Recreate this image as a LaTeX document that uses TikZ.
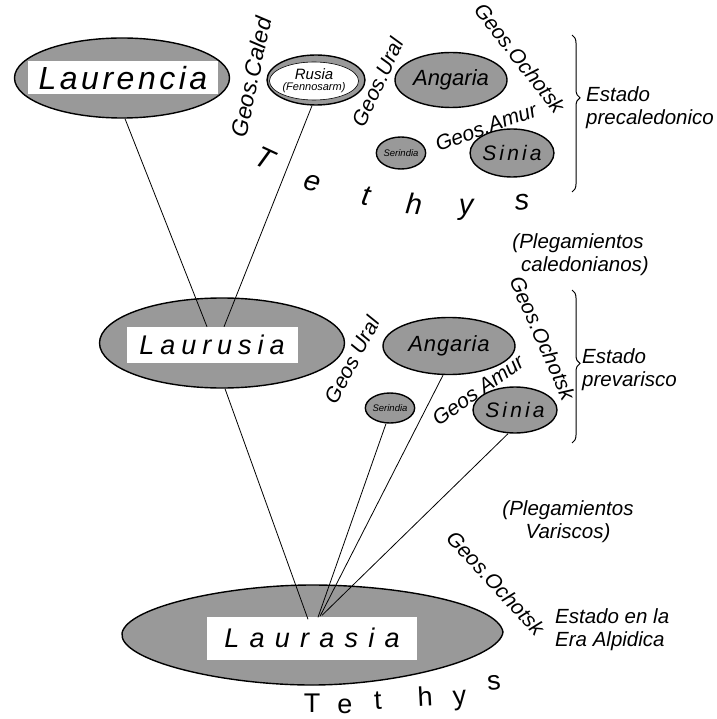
\documentclass[tikz,border=0pt]{standalone}
\usepackage{fontspec}
\setmainfont{Liberation Sans}
\usetikzlibrary{positioning,shapes.geometric,calc,decorations.pathreplacing}

\begin{document}
\begin{tikzpicture}[x=1pt, y=-1pt,
  landmass/.style={ellipse, draw, line width=1.4pt, fill=black!40, inner sep=0pt},
  namebox/.style={fill=white, inner sep=0pt, font=\itshape\fontsize{27}{27}\selectfont},
  geos/.style={font=\itshape\fontsize{21}{21}\selectfont, inner sep=0pt},
  note/.style={font=\itshape\fontsize{20.5}{23}\selectfont, inner sep=0pt},
  sea/.style={font=\itshape\fontsize{29}{29}\selectfont, inner sep=0pt},
  tie/.style={line width=0.8pt},
  stage/.style={decorate, decoration={brace, amplitude=8pt, aspect=#1}, line width=1pt}
]
\useasboundingbox (0,0) rectangle (716,719);

% Estado precaledonico
\node[landmass, minimum width=215, minimum height=80] (laurencia) at (122,78) {};
\node[namebox, minimum width=190, minimum height=33, font=\itshape\fontsize{32}{32}\selectfont] (laurenciaLbl) at (123,78) {\addfontfeature{LetterSpace=11}Laurencia};
\node[landmass, minimum width=98, minimum height=50] (rusia) at (316,80) {};
\node[ellipse, draw, line width=0.6pt, fill=white, minimum width=84, minimum height=38, inner sep=0pt, align=center] (rusiaLbl) at (314,81)
  {{\itshape\fontsize{15}{15}\selectfont Rusia}\\[-1pt]{\itshape\fontsize{11}{11}\selectfont (Fennosarm)}};
\node[landmass, minimum width=112, minimum height=55, font=\itshape\fontsize{22}{22}\selectfont] (angaria1) at (451,80) {Angaria};
\node[landmass, minimum width=48, minimum height=32, font=\itshape\fontsize{9.5}{9.5}\selectfont] (serindia1) at (401,153) {Serindia};
\node[landmass, minimum width=82, minimum height=48, font=\itshape\fontsize{21}{21}\selectfont] (sinia1) at (512,153) {\addfontfeature{LetterSpace=15}Sinia};

\node[geos, rotate=78, font=\itshape\fontsize{23}{23}\selectfont] (caled1) at (251,77) {Geos.Caled};
\node[geos, rotate=65] (ural1) at (378,82) {Geos.Ural};
\node[geos, rotate=-52] (ochotsk1) at (520,58) {Geos.Ochotsk};
\node[geos, rotate=20] (amur1) at (486,127) {Geos.Amur};

\foreach \ch/\x/\y/\r [count=\i] in {T/265/158/-25, e/312/183/-15, t/366/196/-10, h/414/204/-5, y/466/210/0, s/522/202/5}
  \node[sea, rotate=\r] (tethysTop\i) at (\x,\y) {\ch};

\draw[stage=0.4] (572,35) -- (572,192);
\node[note, anchor=west, align=left] (precal) at (586,108) {Estado\\precaledonico};

\node[note, align=center] (pleg1) at (578,255) {(Plegamientos\\\hspace*{14pt}caledonianos)};

% Estado prevarisco
\node[landmass, minimum width=245, minimum height=90] (laurusia) at (222,343) {};
\node[namebox, minimum width=171, minimum height=36] (laurusiaLbl) at (212,345) {\addfontfeature{LetterSpace=22}Laurusia};
\node[landmass, minimum width=132, minimum height=57, font=\itshape\fontsize{22}{22}\selectfont] (angaria2) at (449,346) {\addfontfeature{LetterSpace=4}Angaria};
\node[landmass, minimum width=46, minimum height=30, font=\itshape\fontsize{9.5}{9.5}\selectfont] (serindia2) at (390,408) {Serindia};
\node[landmass, minimum width=84, minimum height=46, font=\itshape\fontsize{21}{21}\selectfont] (sinia2) at (515,410) {\addfontfeature{LetterSpace=15}Sinia};

\node[geos, rotate=62] (ural2) at (352,360) {Geos Ural};
\node[geos, rotate=-66] (ochotsk2) at (543,338) {Geos.Ochotsk};
\node[geos, rotate=35] (amur2) at (478,390) {Geos Amur};

\draw[stage=0.48] (572,290) -- (572,443);
\node[note, anchor=west, align=left] (prevar) at (582,370) {Estado\\prevarisco};

\node[note, align=center] (pleg2) at (568,522) {(Plegamientos\\Variscos)};

% Era Alpidica
\draw[line width=1.4pt, fill=black!40] (122,633) .. controls (128,606) and (230,585) .. (312,585)
  .. controls (400,585) and (498,604) .. (503,632) .. controls (500,658) and (400,685) .. (312,685)
  .. controls (220,685) and (118,660) .. (122,633) -- cycle;
\node[namebox, minimum width=210, minimum height=43] (laurasiaLbl) at (312,638) {\addfontfeature{LetterSpace=38}Laurasia};
\node[geos, rotate=-47] (ochotsk3) at (496,583) {Geos.Ochotsk};
\node[note, anchor=west, align=left] (alpid) at (555,630) {Estado en la\\Era Alpidica};

\foreach \ch/\x/\y/\r [count=\i] in {T/312/703/0, e/345/706/0, t/378/701/3, h/425/696/3, y/460/701/5, s/494/683/5}
  \node[sea, rotate=\r, font=\fontsize{27}{27}\selectfont] (tethysLow\i) at (\x,\y) {\ch};

% connections
\draw[tie] ([xshift=3pt]laurencia.south) -- ([xshift=-5pt]laurusiaLbl.north);
\draw[tie] ([xshift=-4pt]rusia.south) -- ([xshift=12pt]laurusiaLbl.north);
\draw[tie] ([xshift=3pt]laurusia.south) -- ([xshift=-4pt,yshift=-3pt]laurasiaLbl.north);
\draw[tie] ([xshift=-4pt]serindia2.south) -- ([xshift=6pt,yshift=-1pt]laurasiaLbl.north);
\draw[tie] ([xshift=-6pt]angaria2.south) -- ([xshift=8pt]laurasiaLbl.north);
\draw[tie] ([xshift=-7pt]sinia2.south) -- ([xshift=10pt,yshift=1pt]laurasiaLbl.north);
\end{tikzpicture}
\end{document}
